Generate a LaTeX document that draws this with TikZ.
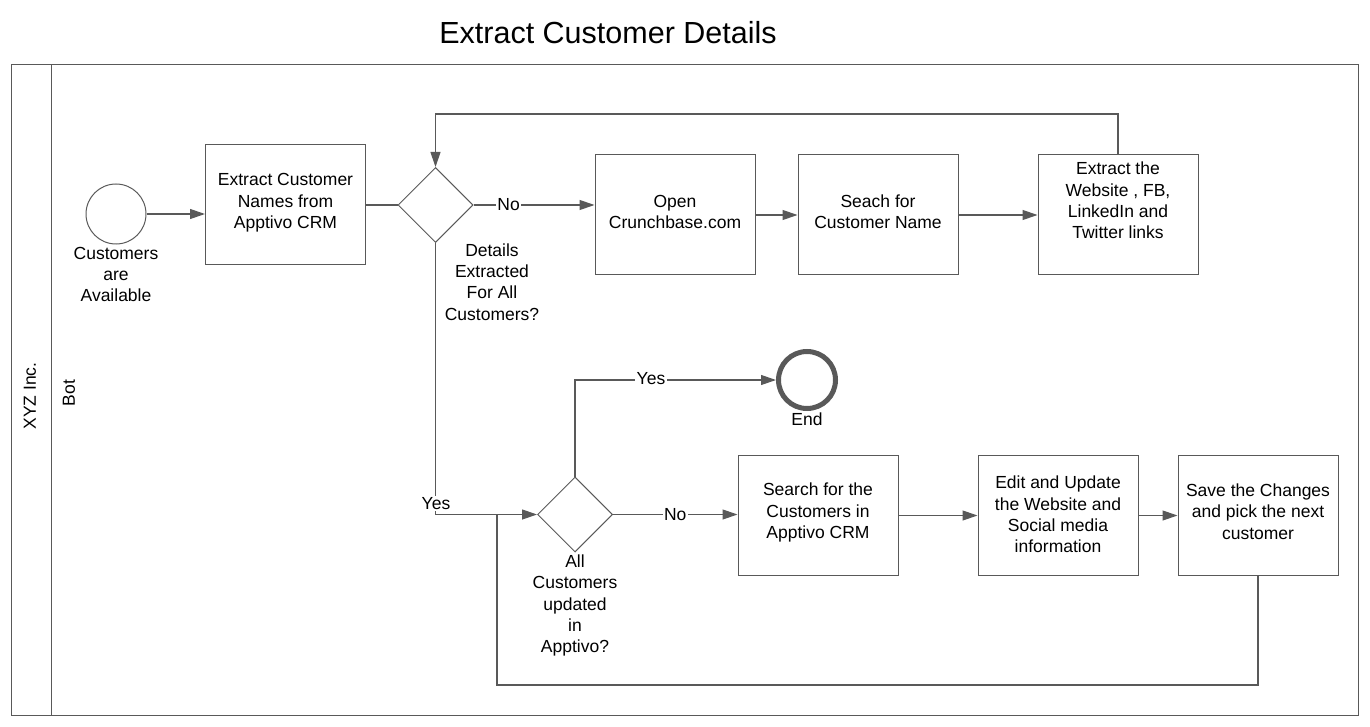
\documentclass[tikz,border=0pt]{standalone}
\usepackage{fontspec}
\setmainfont{Liberation Sans}
\usetikzlibrary{shapes.geometric,arrows.meta}
\definecolor{ln}{HTML}{595959}
\tikzset{
  box/.style={draw=ln,line width=1pt,minimum width=160pt,minimum height=120pt,inner sep=0pt},
  boxt/.style 2 args={label={[txt,yshift=#1]center:#2}},
  dia/.style={diamond,draw=ln,line width=1pt,minimum width=75pt,minimum height=75pt,inner sep=0pt},
  txt/.style={align=center,inner sep=1pt,font=\fontsize{17.5}{21.3}\selectfont},
  lbl/.style={fill=white,inner sep=1.5pt,font=\fontsize{17.5}{21.3}\selectfont},
  conn/.style={draw=ln,line width=1.2pt},
  arr/.style={conn,-{Triangle[length=15pt,width=10pt]}},
}
\begin{document}
\begin{tikzpicture}[x=1pt,y=-1pt]
\useasboundingbox (0,0) rectangle (1370,727);
% title
\node[font=\fontsize{30.5}{35}\selectfont] (title) at (608,33) {Extract Customer Details};
% lane frame
\draw[ln,line width=1pt] (11,65) rectangle (1358,715);
\draw[ln,line width=1pt] (51,65) -- (51,715);
\node[txt,rotate=90] (pool) at (30,396) {XYZ Inc.};
\node[txt,rotate=90] (lane) at (69,393) {Bot};
% start
\node[circle,draw=ln,line width=1pt,minimum size=60pt,inner sep=0pt] (start) at (116,214) {};
\node[txt] (startl) at (116,274.5) {Customers\\are\\Available};
% boxes
\node[box,boxt={2pt}{Extract Customer\\Names from\\Apptivo CRM}] (b1) at (285.5,205) {};
\node[dia] (d1) at (435.5,205) {};
\node[txt] (d1l) at (492,282) {Details\\Extracted\\For All\\Customers?};
\node[box,boxt={3pt}{Open\\Crunchbase.com}] (b2) at (675,215) {};
\node[box,boxt={3pt}{Seach for\\Customer Name}] (b3) at (878,215) {};
\node[box,boxt={14.5pt}{Extract the\\Website , FB,\\LinkedIn and\\Twitter links}] (b4) at (1118,215) {};
\node[dia] (d2) at (575,514.5) {};
\node[txt] (d2l) at (575,605.5) {All\\Customers\\updated\\in\\Apptivo?};
\node[circle,draw=ln,line width=5pt,minimum size=57pt,inner sep=0pt] (end) at (807,380) {};
\node[txt] (endl) at (807,419) {End};
\node[box,boxt={3pt}{Search for the\\Customers in\\Apptivo CRM}] (b5) at (818,515.5) {};
\node[box,boxt={1pt}{Edit and Update\\the Website and\\Social media\\information}] (b6) at (1058,515.5) {};
\node[box,boxt={4pt}{Save the Changes\\and pick the next\\customer}] (b7) at (1258,515.5) {};
% coordinates
\coordinate (lt) at (1118,114);
\coordinate (bl) at (1258,685);
\coordinate (br) at (497,685);
\coordinate (jn) at (497,514.5);
% connectors
\draw[arr] (start.east) -- (start.east -| b1.west);
\draw[conn] (b1.east |- d1.west) -- (d1.west);
\draw[arr] (d1.east) -- (d1.east -| b2.west) node[lbl,pos=0.29] (no1) {No};
\draw[arr] (b2.east) -- (b3.west);
\draw[arr] (b3.east) -- (b4.west);
\draw[arr] (b4.north) -- (lt) -| (d1.north);
\draw[arr] (d1.south) |- (d2.west);
\node[lbl] (yes1) at (436,503.5) {Yes};
\draw[arr] (d2.north) |- (end.west);
\node[lbl] (yes2) at (651,378.5) {Yes};
\draw[arr] (d2.east) -- (d2.east -| b5.west) node[lbl,pos=0.5] (no2) {No};
\draw[arr] (b5.east) -- (b6.west);
\draw[arr] (b6.east) -- (b7.west);
\draw[conn] (b7.south) -- (bl) -- (br) -- (jn);
\end{tikzpicture}
\end{document}
